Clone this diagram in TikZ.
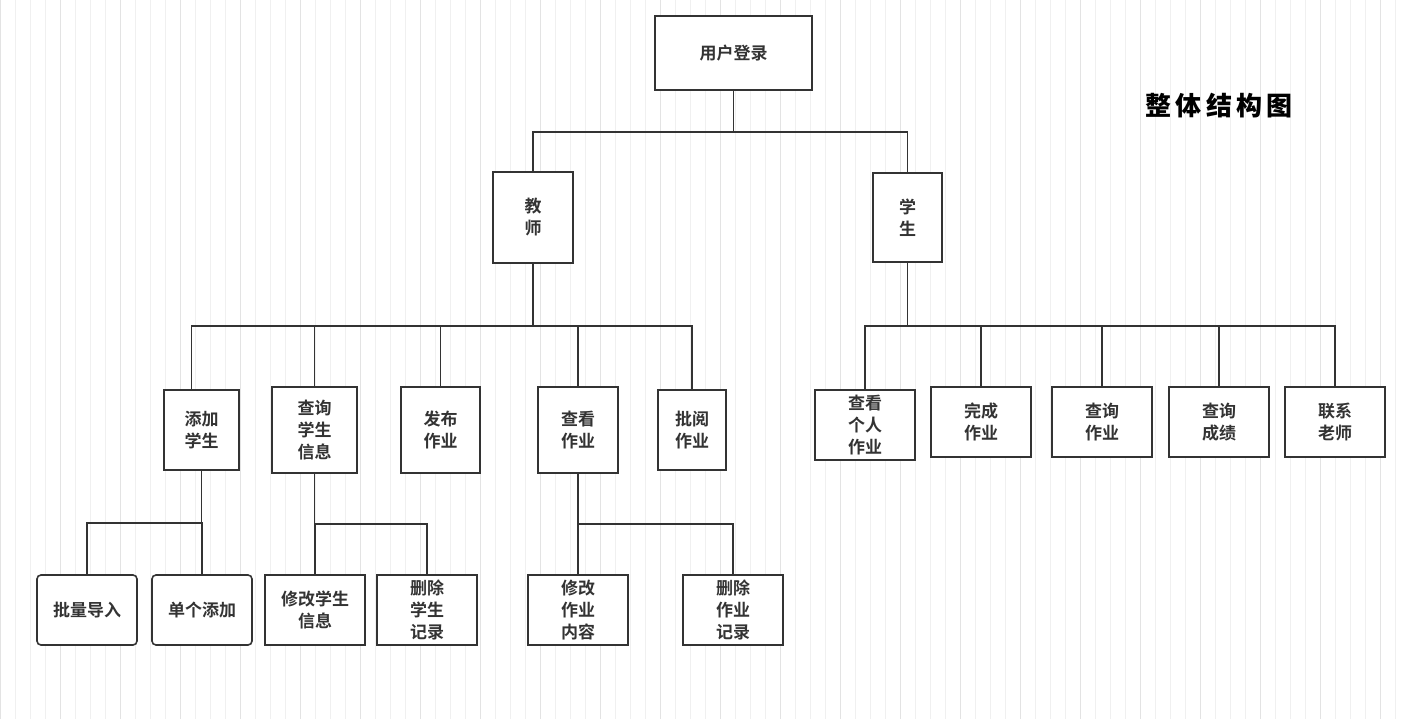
\documentclass[tikz,border=0pt]{standalone}
\usepackage{fontspec}
\newfontfamily\cjk{Noto Sans CJK SC Bold}
\newfontfamily\cjkt{Noto Sans CJK SC Black}
\usetikzlibrary{calc}
\definecolor{ink}{HTML}{333333}
\begin{document}
\begin{tikzpicture}[x=1pt,y=-1pt,
  bx/.style={draw=ink,line width=1.6pt,fill=white,align=center,inner sep=0pt,
    font=\cjk\fontsize{17}{22}\selectfont,text=ink},
  rb/.style={bx,rounded corners=4pt},
  ln/.style={draw=ink,line width=1.8pt}]
\useasboundingbox (0,0) rectangle (1407,719);
\fill[white] (0,0) rectangle (1407,719);
\draw[gray!12,line width=0.6pt,step=15] (0,0) grid (1407,719);
\draw[gray!22,line width=0.8pt,step=60] (0,0) grid (1407,719);
\newcommand{\bxat}[6]{\node[#1,minimum width=#4-#2,minimum height=#5-#3] at ({(#2+#4)/2},{(#3+#5)/2}) (#6)}
\bxat{bx}{655}{16}{812}{90}{root} {用户登录};
\bxat{bx}{493}{172}{573}{263}{t} {教\\师};
\bxat{bx}{873}{173}{942}{262}{s} {学\\生};
\bxat{bx}{164}{390}{239}{470}{t1} {添加\\学生};
\bxat{bx}{272}{387}{357}{473}{t2} {查询\\学生\\信息};
\bxat{bx}{401}{387}{480}{473}{t3} {发布\\作业};
\bxat{bx}{538}{387}{618}{473}{t4} {查看\\作业};
\bxat{bx}{658}{390}{726}{470}{t5} {批阅\\作业};
\bxat{bx}{815}{390}{915}{460}{s1} {查看\\个人\\作业};
\bxat{bx}{931}{387}{1031}{457}{s2} {完成\\作业};
\bxat{bx}{1052}{387}{1152}{457}{s3} {查询\\作业};
\bxat{bx}{1169}{387}{1269}{457}{s4} {查询\\成绩};
\bxat{bx}{1285}{387}{1385}{457}{s5} {联系\\老师};
\bxat{rb}{37}{575}{137}{645}{a1} {批量导入};
\bxat{rb}{152}{575}{252}{645}{a2} {单个添加};
\bxat{bx}{265}{575}{365}{645}{b1} {修改学生\\信息};
\bxat{bx}{377}{575}{477}{645}{b2} {删除\\学生\\记录};
\bxat{bx}{528}{575}{628}{645}{c1} {修改\\作业\\内容};
\bxat{bx}{683}{575}{783}{645}{c2} {删除\\作业\\记录};
\node[font=\cjkt\fontsize{26}{30}\selectfont,text=black,
  text width=200pt,align=center] (title) at (1219,106) {整\,体\,结\,构\,图};
% connectors
\foreach \c in {t,s} \draw[ln] (root.south) -- ++(0,41) -| (\c.north);
\draw[ln] (t.south) -- ++(0,62) -| ([xshift=-10pt]t1.north);
\foreach \c in {t2,t3,t4,t5} \draw[ln] (t.south) -- ++(0,62) -| (\c.north);
\foreach \c in {s1,s2,s3,s4,s5} \draw[ln] (s.south) -- ++(0,63) -| (\c.north);
\foreach \c in {a1,a2} \draw[ln] (t1.south) -- ++(0,52) -| (\c.north);
\foreach \c in {b1,b2} \draw[ln] (t2.south) -- ++(0,50) -| (\c.north);
\foreach \c in {c1,c2} \draw[ln] (t4.south) -- ++(0,50) -| (\c.north);
\end{tikzpicture}
\end{document}
